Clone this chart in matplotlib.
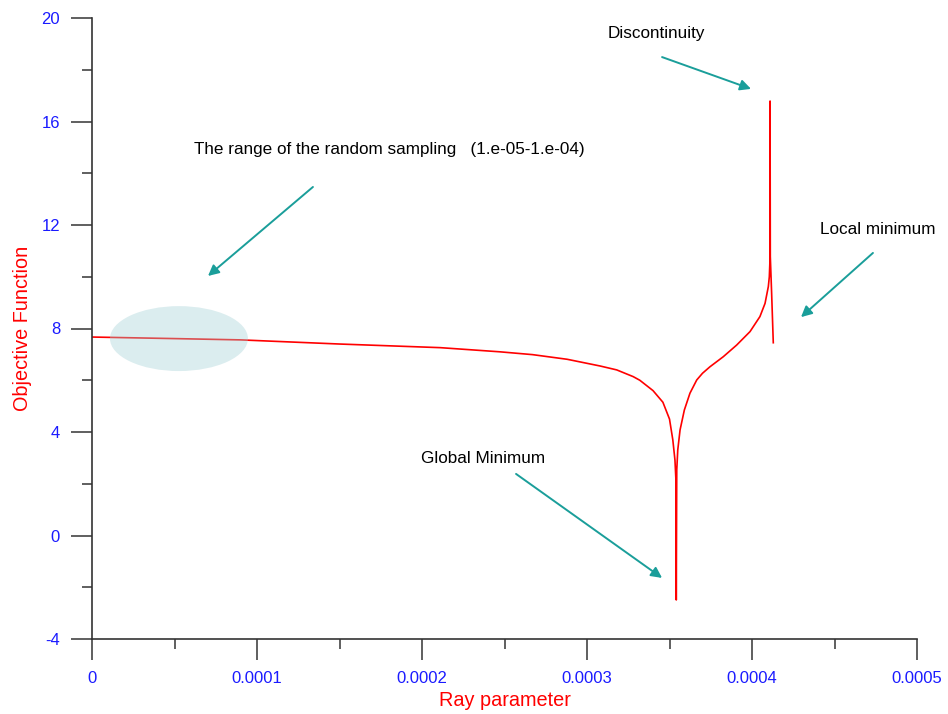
import matplotlib
matplotlib.use("Agg")
import matplotlib.pyplot as plt
from matplotlib.patches import Ellipse
from matplotlib.ticker import FixedLocator, FixedFormatter

plt.rcParams['font.family'] = ['Liberation Sans', 'DejaVu Sans']

# Ray parameter (x 1e-4) and objective function values
ray_param_e4 = [0.0, 0.5, 0.9, 1.5, 2.11, 2.47, 2.67, 2.88, 3.08, 3.18, 3.28,
                3.32, 3.40, 3.46, 3.50, 3.52, 3.533, 3.539, 3.541,
                3.544, 3.550, 3.564, 3.59, 3.624, 3.665, 3.70, 3.745, 3.826, 3.907,
                3.988, 4.048, 4.079, 4.099, 4.105, 4.108, 4.1095,
                4.111, 4.119, 4.129]
objective = [7.67, 7.61, 7.56, 7.40, 7.26, 7.10, 6.99, 6.81, 6.55, 6.40, 6.14,
             6.00, 5.60, 5.15, 4.50, 3.70, 2.92, 2.14, -2.49,
             2.53, 3.30, 4.08, 4.85, 5.50, 6.01, 6.27, 6.52, 6.91, 7.36,
             7.88, 8.46, 8.97, 9.62, 10.0, 10.5, 16.79,
             10.78, 9.36, 7.45]

x_ticks = [0, 0.0001, 0.0002, 0.0003, 0.0004, 0.0005]
x_tick_labels = ["0", "0.0001", "0.0002", "0.0003", "0.0004", "0.0005"]
x_minor = [0.00005, 0.00015, 0.00025, 0.00035, 0.00045]
y_ticks = [-4, 0, 4, 8, 12, 16, 20]
y_tick_labels = ["-4", "0", "4", "8", "12", "16", "20"]
y_minor = [-2, 2, 6, 10, 14, 18]

# annotations: text, text position, arrow tail, arrow head (data coordinates)
annotations = [
    ("Discontinuity", (3.127e-4, 19.42), (3.455e-4, 18.49), (3.994e-4, 17.26)),
    ("Local minimum", (4.412e-4, 11.81), (4.733e-4, 10.92), (4.297e-4, 8.44)),
    ("Global Minimum", (1.994e-4, 2.995), (2.570e-4, 2.38), (3.455e-4, -1.64)),
    ("The range of the random sampling   (1.e-05-1.e-04)", (0.618e-4, 14.90),
     (1.339e-4, 13.47), (0.703e-4, 10.03)),
]

# sampling range ellipse (center, width, height)
ell_center = (0.527e-4, 7.61)
ell_w, ell_h = 0.836e-4, 2.51

x = [v * 1e-4 for v in ray_param_e4]

fig = plt.figure(figsize=(9.48, 7.14), dpi=100)
ax = fig.add_axes([92/948, 1 - 639/714, 825/948, 621/714])

ax.plot(x, objective, color='#ff0000', lw=1.2, zorder=2, solid_joinstyle='round')
ax.add_patch(Ellipse(ell_center, ell_w, ell_h, facecolor='#a2d0d5', edgecolor='none',
                     alpha=0.38, zorder=3))

teal = '#1a9e9a'
for text, tpos, tail, head in annotations:
    ax.text(tpos[0], tpos[1], text, fontsize=12.3, color='black', ha='left', va='center')
    ax.annotate('', xy=head, xytext=tail,
                arrowprops=dict(arrowstyle='-|>', color=teal, lw=1.4,
                                mutation_scale=16, shrinkA=0, shrinkB=0))

ax.set_xlim(0, 0.0005)
ax.set_ylim(-4, 20)
ax.spines['top'].set_visible(False)
ax.spines['right'].set_visible(False)
for s in ('left', 'bottom'):
    ax.spines[s].set_color('#333333')
    ax.spines[s].set_linewidth(1.2)

ax.xaxis.set_major_locator(FixedLocator(x_ticks))
ax.xaxis.set_major_formatter(FixedFormatter(x_tick_labels))
ax.xaxis.set_minor_locator(FixedLocator(x_minor))
ax.yaxis.set_major_locator(FixedLocator(y_ticks))
ax.yaxis.set_major_formatter(FixedFormatter(y_tick_labels))
ax.yaxis.set_minor_locator(FixedLocator(y_minor))

ax.tick_params(which='major', length=15, width=1.2, color='#444444',
               labelcolor='#1a1aff', labelsize=12, direction='out')
ax.tick_params(axis='x', which='major', pad=8)
ax.tick_params(axis='y', which='major', pad=8)
ax.tick_params(which='minor', length=7.5, width=1.2, color='#444444', direction='out')

ax.set_xlabel('Ray parameter', color='#ff0000', fontsize=14.3, labelpad=4)
ax.set_ylabel('Objective Function', color='#ff0000', fontsize=14.3, labelpad=7)

fig.savefig('out.png', dpi=100)
